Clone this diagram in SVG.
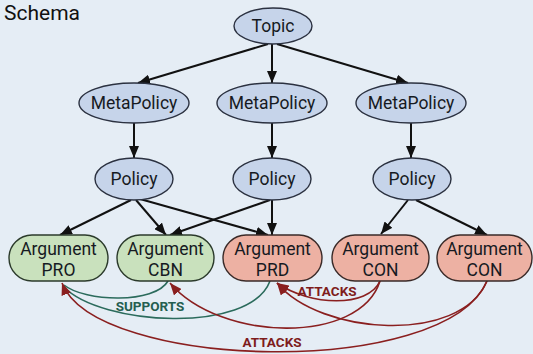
<svg xmlns="http://www.w3.org/2000/svg" width="533" height="354" viewBox="0 0 533 354">
<style>
.bg{fill:#e5edf5}
.ell{fill:#c6d4ea;stroke:#2b3140;stroke-width:1.4}
.pro{fill:#c9e1bd;stroke:#2b3a2b;stroke-width:1.4}
.con{fill:#edb1a3;stroke:#3a2a28;stroke-width:1.4}
.t{font-family:Roboto,"Liberation Sans",sans-serif;font-size:17.5px;fill:#161a22;text-anchor:middle}
.e{fill:none;stroke:#111;stroke-width:2}
.sup{fill:none;stroke:#2b6b5c;stroke-width:1.6}
.att{fill:none;stroke:#8a1f1f;stroke-width:1.6}
.ls{font-family:Roboto,"Liberation Sans",sans-serif;font-size:13.5px;font-weight:bold;text-anchor:middle}
</style>
<defs>
<marker id="ah" markerUnits="userSpaceOnUse" markerWidth="13" markerHeight="10" refX="12" refY="5" orient="auto"><path d="M0,0 L12,5 L0,10 z" fill="#111"/></marker>
<marker id="ar" markerUnits="userSpaceOnUse" markerWidth="13" markerHeight="10" refX="12" refY="5" orient="auto"><path d="M0,0 L12,5 L0,10 z" fill="#8a1f1f"/></marker>
</defs>
<rect class="bg" x="0" y="0" width="533" height="354"/>
<text x="4" y="20" style="font-family:Roboto,'Liberation Sans',sans-serif;font-size:21px;fill:#111">Schema</text>

<g id="connectors">
<line class="e" x1="268" y1="44" x2="138" y2="83" marker-end="url(#ah)"/>
<line class="e" x1="272" y1="44" x2="272" y2="83" marker-end="url(#ah)"/>
<line class="e" x1="277" y1="44" x2="408" y2="83" marker-end="url(#ah)"/>
<line class="e" x1="134" y1="123" x2="134" y2="158" marker-end="url(#ah)"/>
<line class="e" x1="272" y1="123" x2="272" y2="158" marker-end="url(#ah)"/>
<line class="e" x1="411" y1="123" x2="411" y2="158" marker-end="url(#ah)"/>
<line class="e" x1="131" y1="200" x2="60" y2="235" marker-end="url(#ah)"/>
<line class="e" x1="136" y1="200" x2="166" y2="235" marker-end="url(#ah)"/>
<line class="e" x1="140" y1="199" x2="268" y2="235" marker-end="url(#ah)"/>
<line class="e" x1="270" y1="200" x2="170" y2="235" marker-end="url(#ah)"/>
<line class="e" x1="272" y1="200" x2="272" y2="235" marker-end="url(#ah)"/>
<line class="e" x1="408" y1="200" x2="381" y2="234" marker-end="url(#ah)"/>
<line class="e" x1="416" y1="200" x2="487" y2="235" marker-end="url(#ah)"/>

<path class="sup" d="M168,281 C155,304 85,302 64,285"/>
<path class="sup" d="M270,281 C250,335 100,325 64,287"/>
<path class="att" d="M380,281 C368,308 310,306 277,283" marker-end="url(#ar)"/>
<path class="att" d="M487,281 C460,345 320,335 277,283" marker-end="url(#ar)"/>
<path class="att" d="M380,281 C360,345 220,342 170,283" marker-end="url(#ar)"/>
<path class="att" d="M487,281 C445,380 95,370 62,283" marker-end="url(#ar)"/>
<text class="ls" x="150" y="311" fill="#245e50">SUPPORTS</text>
<text class="ls" x="327" y="296" fill="#7e1c1c">ATTACKS</text>
<text class="ls" x="272" y="347" fill="#7e1c1c">ATTACKS</text>
</g>

<g id="topic"><ellipse class="ell" cx="273" cy="26" rx="39" ry="18"/><text class="t" x="273" y="32">Topic</text></g>
<g id="metapolicy1"><ellipse class="ell" cx="134" cy="103" rx="55" ry="20"/><text class="t" x="134" y="109">MetaPolicy</text></g>
<g id="metapolicy2"><ellipse class="ell" cx="272" cy="103" rx="55" ry="20"/><text class="t" x="272" y="109">MetaPolicy</text></g>
<g id="metapolicy3"><ellipse class="ell" cx="411" cy="103" rx="55" ry="20"/><text class="t" x="411" y="109">MetaPolicy</text></g>
<g id="policy1"><ellipse class="ell" cx="134" cy="179" rx="39" ry="21"/><text class="t" x="134" y="185">Policy</text></g>
<g id="policy2"><ellipse class="ell" cx="272" cy="179" rx="39" ry="21"/><text class="t" x="272" y="185">Policy</text></g>
<g id="policy3"><ellipse class="ell" cx="412" cy="179" rx="39" ry="21"/><text class="t" x="412" y="185">Policy</text></g>

<g id="arg-pro"><rect class="pro" x="9" y="235" width="99" height="46" rx="23"/><text class="t" x="58.5" y="255">Argument</text><text class="t" x="58.5" y="276">PRO</text></g>
<g id="arg-cbn"><rect class="pro" x="117" y="235" width="97" height="46" rx="23"/><text class="t" x="165.5" y="255">Argument</text><text class="t" x="165.5" y="276">CBN</text></g>
<g id="arg-prd"><rect class="con" x="223" y="235" width="99" height="46" rx="23"/><text class="t" x="272.5" y="255">Argument</text><text class="t" x="272.5" y="276">PRD</text></g>
<g id="arg-con1"><rect class="con" x="332" y="235" width="97" height="46" rx="23"/><text class="t" x="380.5" y="255">Argument</text><text class="t" x="380.5" y="276">CON</text></g>
<g id="arg-con2"><rect class="con" x="437" y="235" width="95" height="46" rx="23"/><text class="t" x="484.5" y="255">Argument</text><text class="t" x="484.5" y="276">CON</text></g>
</svg>
